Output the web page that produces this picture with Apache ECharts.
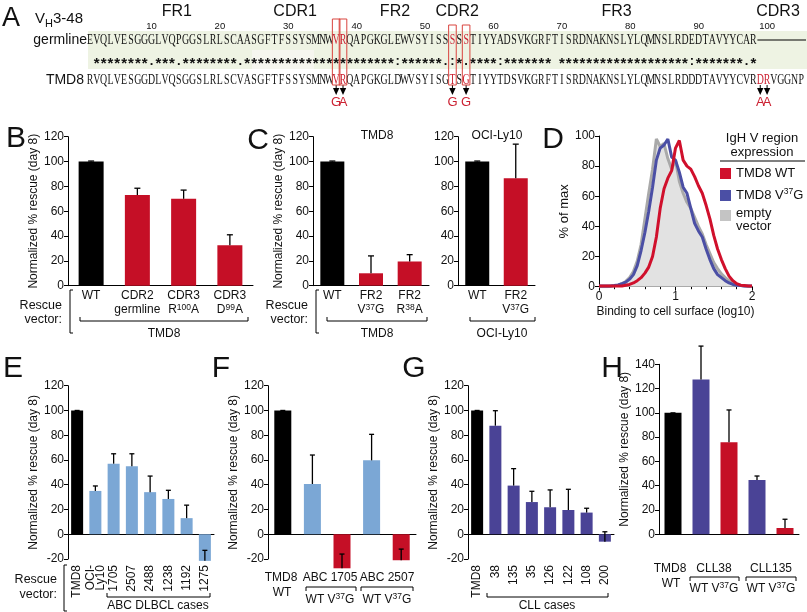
<!DOCTYPE html>
<html>
<head>
<meta charset="utf-8">
<title>IgH V region rescue</title>
<script src="https://cdn.jsdelivr.net/npm/echarts@6/dist/echarts.min.js"></script>
<style>
html, body { margin: 0; padding: 0; background: #fff; }
#chart-container { width: 807px; height: 612px; }
</style>
</head>
<body>
<div id="chart-container"></div>
<script>
'use strict';

// ---- A: sequence alignment ----
const germlineSeq = 'EVQLVESGGGLVQPGGSLRLSCAASGFTFSSYSMNWVRQAPGKGLEWVSYISSSSSTIYYADSVKGRFTISRDNAKNSLYLQMNSLRDEDTAVYYCAR';
const tmd8Seq = 'RVQLVESGGDLVQSGGSLRLSCVASGFTFSSYSMNWVRQAPGKGLDWVSYISGTSGTIYYTDSVKGRFTISRDNAKNSLYLQMNSLRDDDTAVYYCVRDRVGGNP';
const matchMarks = ' ' + '********' + '.' + '***' + '.' + '********' + '.' +
    '**********************' + ':' + '******' + '.:*.' + '****' + ':' + '*******' + ' ' +
    '*******************' + ':' + '*******' + '.*';
const germlineRed = [37, 38, 54, 56];
const tmd8Red = [37, 38, 54, 56, 99, 100];
const boxedResidues = [37, 38, 54, 56];
const mutations = [[37, 'G'], [38, 'A'], [54, 'G'], [56, 'G'], [99, 'A'], [100, 'A']];
const regionNames = ['FR1', 'CDR1', 'FR2', 'CDR2', 'FR3', 'CDR3'];
const regionAt = [13.7, 31, 45.6, 54.7, 78, 101.6];
const residueTicks = [10, 20, 30, 40, 50, 60, 70, 80, 90, 100];

// ---- B ----
const bLabels = ['WT', 'CDR2\ngermline', 'CDR3\nR{sup|100}A', 'CDR3\nD{sup|99}A'];
const bValues = [100, 73, 70, 32.5];
const bErrTop = [100.4, 78.5, 77, 41];

// ---- C ----
const cTmd8Labels = ['WT', 'FR2\nV{sup|37}G', 'FR2\nR{sup|38}A'];
const cTmd8Values = [100, 10, 19.5];
const cTmd8ErrTop = [100.4, 24, 25];
const cOciLabels = ['WT', 'FR2\nV{sup|37}G'];
const cOciValues = [100, 86.5];
const cOciErrTop = [100.4, 114];

// ---- D: histograms ----
const dBinding = [0, 0.05, 0.1, 0.15, 0.2, 0.25, 0.3, 0.35, 0.4, 0.45, 0.5, 0.55, 0.6, 0.65, 0.7,
    0.75, 0.8, 0.85, 0.9, 0.95, 1, 1.05, 1.1, 1.15, 1.2, 1.25, 1.3, 1.35, 1.4, 1.45, 1.5, 1.55,
    1.6, 1.65, 1.7, 1.75, 1.8, 1.85, 1.9, 1.95, 2];
const dEmpty = [0, 0, 0, 0.3, 0.6, 1, 2, 3.5, 6, 10, 17, 28, 45, 62, 78, 98, 93, 95, 85, 78, 84,
    70, 62, 56, 52, 46, 40, 35, 28, 22, 16, 12, 8.5, 6, 4, 2.5, 1.5, 1, 0.5, 0.3, 0];
const dV37G = [0.5, 0.5, 0.5, 0.5, 0.8, 1.2, 2, 3, 5, 8, 14, 24, 36, 50, 66, 84, 92, 94, 98, 86, 84,
    76, 66, 62, 52, 42, 37, 33, 25, 18, 12, 8, 6, 4, 2.5, 1.5, 1, 0.8, 0.5, 0.5, 0.5];
const dWT = [0.5, 0.5, 0.5, 0.5, 0.5, 0.5, 0.5, 1, 1.5, 2.5, 4, 6, 9, 13, 20, 33, 52, 65, 72, 77, 92,
    97, 84, 80, 78, 73, 67, 62, 54, 45, 34, 25, 18, 12, 7, 4, 2, 1, 0.8, 0.5, 0.5];

// ---- E ----
const eLabels = ['TMD8', 'OCI-\nLy10', '1705', '2507', '2488', '1238', '1192', '1275'];
const eValues = [100, 35, 57, 55, 34, 28.5, 13, -21.5];
const eErrEnd = [100, 39, 65, 65, 47, 35.5, 23.5, -13];

// ---- F ----
const fLabels = ['TMD8 WT', 'ABC 1705 WT', 'ABC 1705 V37G', 'ABC 2507 WT', 'ABC 2507 V37G'];
const fValues = [100, 40.6, -27.5, 59.7, -21];
const fErrEnd = [100, 64, -16, 80.7, -12];

// ---- G ----
const gLabels = ['TMD8', '38', '135', '35', '126', '122', '108', '200'];
const gValues = [100, 87.7, 39.3, 26, 21.8, 19.6, 17.5, -6];
const gErrEnd = [100, 99.8, 53, 34.7, 35.8, 36.3, 21, 2];

// ---- H ----
const hLabels = ['TMD8 WT', 'CLL38 WT', 'CLL38 V37G', 'CLL135 WT', 'CLL135 V37G'];
const hValues = [100, 127.5, 75.8, 44.7, 5.2];
const hErrEnd = [100, 155, 102.4, 48, 12.4];

const FONT = 'Liberation Sans';
const INK = '#111';
const BLACK = '#000';
const RED = '#c50f26';
const LIGHT_BLUE = '#7ba7d5';
const PURPLE = '#4a4396';
const D_BLUE = '#4b4fa5';
const D_RED = '#d0102c';
const SEQ_RED = '#cc2233';

const bColors = [BLACK, RED, RED, RED];
const cTmd8Colors = [BLACK, RED, RED];
const cOciColors = [BLACK, RED];
const eColors = [BLACK, LIGHT_BLUE, LIGHT_BLUE, LIGHT_BLUE, LIGHT_BLUE, LIGHT_BLUE, LIGHT_BLUE, LIGHT_BLUE];
const fColors = [BLACK, LIGHT_BLUE, RED, LIGHT_BLUE, RED];
const gColors = [BLACK, PURPLE, PURPLE, PURPLE, PURPLE, PURPLE, PURPLE, PURPLE];
const hColors = [BLACK, PURPLE, RED, PURPLE, RED];

const YNAME = 'Normalized % rescue (day 8)';
const AXIS_RICH = { sup: { fontSize: 8.5, lineHeight: 8, verticalAlign: 'top', color: INK, fontFamily: FONT } };
const GR_RICH = { sup: { fontSize: 8.5, lineHeight: 8, verticalAlign: 'top', fill: INK, fontFamily: FONT } };

function resX(n) {
    return 86.5 + (n - 0.5) * 6.84;
}

const graphics = [];

function txt(x, y, text, o) {
    o = o || {};
    graphics.push({
        type: 'text', x: x, y: y, rotation: o.rotation || 0, scaleX: o.scaleX || 1, silent: true, z: 10,
        style: {
            text: text,
            fill: o.color || INK,
            fontFamily: o.family || FONT,
            fontSize: o.size || 12,
            fontWeight: o.weight || 'normal',
            align: o.align || 'center',
            verticalAlign: o.valign || 'middle',
            textAlign: o.align || 'center',
            textVerticalAlign: o.valign || 'middle',
            lineHeight: o.lineHeight,
            rich: o.rich
        }
    });
}

function poly(points, color, width) {
    graphics.push({
        type: 'polyline', silent: true, z: 10,
        shape: { points: points },
        style: { stroke: color || BLACK, fill: null, lineWidth: width || 1 }
    });
}

function rect(x, y, w, h, style) {
    graphics.push({ type: 'rect', silent: true, z: 1, shape: { x: x, y: y, width: w, height: h }, style: style });
}

// group bracket with ticks pointing up
function underBracket(x1, x2, y) {
    poly([[x1, y - 4], [x1, y], [x2, y], [x2, y - 4]]);
}
// group bracket with ticks pointing down
function overBracket(x1, x2, y) {
    poly([[x1, y + 4], [x1, y], [x2, y], [x2, y + 4]]);
}
function leftBracket(x, y1, y2) {
    poly([[x + 3, y1], [x, y1], [x, y2], [x + 3, y2]]);
}

// ---- panel A drawing ----
rect(88, 31, 719, 38, { fill: '#eef3e3' });
rect(252, 50, 62, 19, { fill: '#f6f6ef' });

function seqRow(seq, y, reds) {
    for (let i = 0; i < seq.length; i++) {
        const n = i + 1;
        txt(resX(n), y, seq[i], {
            family: 'Liberation Serif', size: 14.5, scaleX: 0.68,
            color: reds.indexOf(n) >= 0 ? SEQ_RED : INK
        });
    }
}
seqRow(germlineSeq, 40, germlineRed);
seqRow(tmd8Seq, 80, tmd8Red);
for (let i = 0; i < matchMarks.length; i++) {
    if (matchMarks[i] !== ' ') {
        const star = matchMarks[i] === '*';
        txt(resX(i + 1), star ? 64 : 61, matchMarks[i], { size: star ? 15 : 13, weight: 'bold' });
    }
}
poly([[resX(98) + 4, 40], [806, 40]], BLACK, 1.2);

regionNames.forEach((name, i) => txt(resX(regionAt[i]), 12, name, { size: 16 }));
residueTicks.forEach((n) => txt(resX(n), 26, String(n), { size: 9.5 }));

boxedResidues.forEach((n) => {
    const top = n < 50 ? 19 : 25;
    graphics.push({
        type: 'rect', silent: true, z: 11,
        shape: { x: resX(n) - 3.8, y: top, width: 7.6, height: 85 - top },
        style: { stroke: '#d9443f', fill: null, lineWidth: 1 }
    });
});
mutations.forEach(([n, aa]) => {
    const x = resX(n);
    poly([[x, 85], [x, 89]], BLACK, 1);
    graphics.push({
        type: 'polygon', silent: true, z: 11,
        shape: { points: [[x - 3.2, 88], [x + 3.2, 88], [x, 95]] },
        style: { fill: BLACK }
    });
    txt(x, 102, aa, { size: 13, color: SEQ_RED });
});

txt(2, 19, 'A', { size: 27, align: 'left' });
txt(35, 19, 'V{sub|H}3-48', {
    size: 15, align: 'left', lineHeight: 20,
    rich: { sub: { fontSize: 11, lineHeight: 11, verticalAlign: 'bottom', fill: INK, fontFamily: FONT } }
});
txt(87, 40, 'germline', { size: 14, align: 'right' });
txt(84, 80, 'TMD8', { size: 14, align: 'right' });

// ---- panel letters ----
txt(16, 139, 'B', { size: 30 });
txt(258, 141, 'C', { size: 30 });
txt(553, 140, 'D', { size: 30 });
txt(13, 369, 'E', { size: 30 });
txt(221, 369, 'F', { size: 30 });
txt(414, 369, 'G', { size: 30 });
txt(612, 369, 'H', { size: 30 });

// ---- B / C rescue vector annotations ----
txt(62, 306, 'Rescue', { align: 'right', size: 12.5 });
txt(62, 320, 'vector:', { align: 'right', size: 12.5 });
leftBracket(70, 290, 333);
underBracket(80, 248, 321);
txt(164, 334, 'TMD8');

txt(308, 306, 'Rescue', { align: 'right', size: 12.5 });
txt(308, 320, 'vector:', { align: 'right', size: 12.5 });
leftBracket(316, 290, 333);
underBracket(327, 427, 321);
txt(377, 334, 'TMD8');
underBracket(470, 535, 321);
txt(502, 334, 'OCI-Ly10');
txt(377, 136, 'TMD8');
txt(497, 136, 'OCI-Ly10');

// ---- D legend ----
txt(762, 138, 'IgH V region', { size: 13 });
txt(762, 152, 'expression', { size: 13 });
poly([[720, 161], [805, 161]], BLACK, 1.2);
rect(720, 168, 11, 11, { fill: D_RED });
txt(736, 173.5, 'TMD8 WT', { size: 13, align: 'left' });
rect(720, 190, 11, 11, { fill: D_BLUE });
txt(736, 195, 'TMD8 V{sup|37}G', { size: 13, align: 'left', lineHeight: 16, rich: GR_RICH });
rect(720, 210, 11, 11, { fill: '#c4c4c4' });
txt(736, 213, 'empty', { size: 13, align: 'left' });
txt(736, 226, 'vector', { size: 13, align: 'left' });

// ---- E annotations ----
txt(57, 580, 'Rescue', { align: 'right', size: 12.5 });
txt(57, 595, 'vector:', { align: 'right', size: 12.5 });
leftBracket(64, 565, 611);
underBracket(107, 210, 597);
txt(158, 606, 'ABC DLBCL cases');

// ---- F annotations ----
txt(281, 578, 'TMD8');
txt(282, 593, 'WT');
txt(330, 578, 'ABC 1705');
overBracket(306, 356, 587);
txt(330, 600, 'WT V{sup|37}G', { lineHeight: 15, rich: GR_RICH });
txt(387, 578, 'ABC 2507');
overBracket(361, 413, 587);
txt(387, 600, 'WT V{sup|37}G', { lineHeight: 15, rich: GR_RICH });

// ---- G annotations ----
underBracket(487, 608, 597);
txt(547, 606, 'CLL cases');

// ---- H annotations ----
txt(670, 569, 'TMD8');
txt(671, 584, 'WT');
txt(714, 569, 'CLL38');
overBracket(690, 739, 577);
txt(714, 589, 'WT V{sup|37}G', { lineHeight: 15, rich: GR_RICH });
txt(771, 569, 'CLL135');
overBracket(746, 796, 577);
txt(771, 589, 'WT V{sup|37}G', { lineHeight: 15, rich: GR_RICH });

// ---- axes helpers ----
function valAxis(idx, min, max, name, nameGap) {
    return {
        type: 'value', gridIndex: idx, min: min, max: max, interval: 20,
        name: name || '', nameLocation: 'middle', nameGap: nameGap || 0,
        nameTextStyle: { color: INK, fontSize: 12, fontFamily: FONT },
        axisLine: { show: true, lineStyle: { color: BLACK, width: 1 } },
        axisTick: { show: true, inside: false, length: 4, lineStyle: { color: BLACK, width: 1 } },
        axisLabel: { show: true, color: INK, fontSize: 12, fontFamily: FONT, margin: 4 },
        splitLine: { show: false }
    };
}

function catAxis(idx, data, label) {
    return {
        type: 'category', gridIndex: idx, data: data,
        axisLine: { show: true, onZero: true, lineStyle: { color: BLACK, width: 1 } },
        axisTick: { show: false },
        axisLabel: Object.assign({
            show: true, interval: 0, color: INK, fontSize: 12, fontFamily: FONT,
            margin: 3, lineHeight: 14, rich: AXIS_RICH
        }, label || {}),
        splitLine: { show: false }
    };
}

function bars(idx, values, colors, width) {
    return {
        type: 'bar', xAxisIndex: idx, yAxisIndex: idx, data: values, barWidth: width,
        clip: false, silent: true, z: 3,
        itemStyle: { color: (p) => colors[p.dataIndex] }
    };
}

function errorBars(idx, values, ends, halfCap) {
    return {
        type: 'custom', xAxisIndex: idx, yAxisIndex: idx, z: 5, silent: true, clip: false,
        data: values.map((v, i) => [i, v, ends[i]]),
        renderItem: function (params, api) {
            const base = api.coord([api.value(0), api.value(1)]);
            const tip = api.coord([api.value(0), api.value(2)]);
            const style = { stroke: BLACK, lineWidth: 1.3 };
            return {
                type: 'group',
                children: [
                    { type: 'line', shape: { x1: base[0], y1: base[1], x2: base[0], y2: tip[1] }, style: style },
                    { type: 'line', shape: { x1: base[0] - halfCap, y1: tip[1], x2: base[0] + halfCap, y2: tip[1] }, style: style }
                ]
            };
        }
    };
}

function hist(values, color, z, area) {
    const s = {
        type: 'line', xAxisIndex: 3, yAxisIndex: 3, z: z, silent: true,
        data: dBinding.map((x, i) => [x, values[i]]),
        symbol: 'none', lineStyle: { color: color, width: 3 }
    };
    if (area) {
        s.areaStyle = { color: area, opacity: 1 };
    }
    return s;
}

const G = (left, top, width, height) => ({ left: left, top: top, width: width, height: height, outerBoundsMode: 'none' });

const myChart = echarts.init(document.getElementById('chart-container'), null, { renderer: 'canvas' });

const option = {
    animation: false,
    backgroundColor: '#ffffff',
    textStyle: { fontFamily: FONT },
    grid: [
        G(68, 136.7, 185, 149),
        G(313, 136.7, 116, 149),
        G(458, 136.7, 77, 149),
        G(599, 136, 153, 150.7),
        G(68, 385.7, 146, 173.3),
        G(268, 385.7, 148, 173.3),
        G(468, 385.7, 146, 173.3),
        G(659, 364.3, 140, 170)
    ],
    xAxis: [
        catAxis(0, bLabels),
        catAxis(1, cTmd8Labels),
        catAxis(2, cOciLabels),
        {
            type: 'value', gridIndex: 3, min: 0, max: 2, interval: 1,
            name: 'Binding to cell surface (log10)', nameLocation: 'middle', nameGap: 19,
            nameTextStyle: { color: INK, fontSize: 12, fontFamily: FONT },
            axisLine: { show: true, lineStyle: { color: BLACK, width: 1 } },
            axisTick: { show: true, length: 4, lineStyle: { color: BLACK } },
            minorTick: { show: true, splitNumber: 5, length: 2.5, lineStyle: { color: BLACK } },
            axisLabel: { color: INK, fontSize: 12, fontFamily: FONT, margin: 4 },
            splitLine: { show: false }, minorSplitLine: { show: false }
        },
        catAxis(4, eLabels, { rotate: 90, margin: 6, lineHeight: 10 }),
        catAxis(5, fLabels, { show: false }),
        catAxis(6, gLabels, { rotate: 90, margin: 6, lineHeight: 10 }),
        catAxis(7, hLabels, { show: false })
    ],
    yAxis: [
        valAxis(0, 0, 120, YNAME, 23),
        valAxis(1, 0, 120, YNAME, 23),
        valAxis(2, 0, 120),
        Object.assign(valAxis(3, 0, 100, '% of max', 25), { nameTextStyle: { color: INK, fontSize: 13, fontFamily: FONT } }),
        valAxis(4, -20, 120, YNAME, 24),
        valAxis(5, -20, 120, YNAME, 26),
        valAxis(6, -20, 120, YNAME, 26),
        valAxis(7, 0, 140, YNAME, 22)
    ],
    series: [
        bars(0, bValues, bColors, 25),
        errorBars(0, bValues, bErrTop, 3),
        bars(1, cTmd8Values, cTmd8Colors, 24),
        errorBars(1, cTmd8Values, cTmd8ErrTop, 3),
        bars(2, cOciValues, cOciColors, 24),
        errorBars(2, cOciValues, cOciErrTop, 3),
        hist(dEmpty, '#a9a9a9', 2, '#e2e2e2'),
        hist(dV37G, D_BLUE, 3),
        hist(dWT, D_RED, 4),
        bars(4, eValues, eColors, 12),
        errorBars(4, eValues, eErrEnd, 2.5),
        bars(5, fValues, fColors, 17),
        errorBars(5, fValues, fErrEnd, 2.5),
        bars(6, gValues, gColors, 12),
        errorBars(6, gValues, gErrEnd, 2.5),
        bars(7, hValues, hColors, 17),
        errorBars(7, hValues, hErrEnd, 2.5)
    ],
    graphic: { elements: graphics }
};

myChart.setOption(option);
window.addEventListener('resize', myChart.resize);
</script>
</body>
</html>
